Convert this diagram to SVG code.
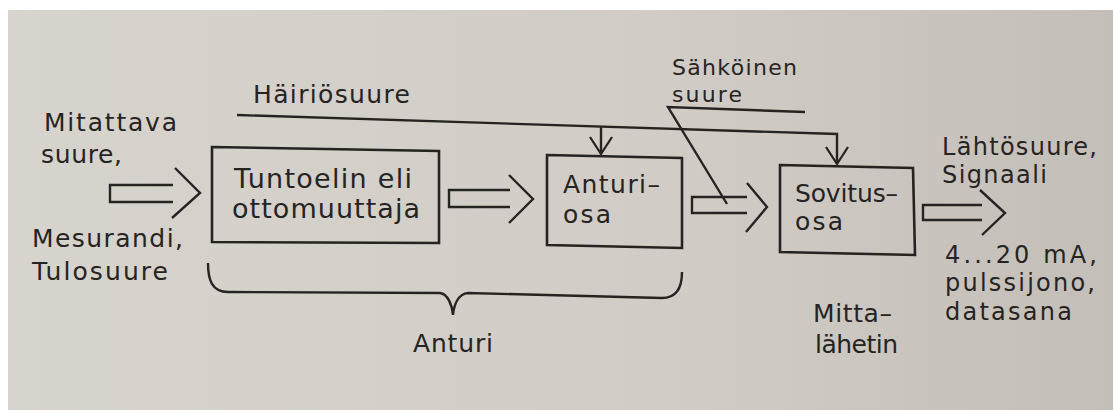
<svg xmlns="http://www.w3.org/2000/svg" width="1113" height="410" viewBox="0 0 1113 410">
  <defs>
    <linearGradient id="paper" x1="0" y1="0" x2="1" y2="0">
      <stop offset="0" stop-color="#d7d3cd"/>
      <stop offset="0.6" stop-color="#d1ccc6"/>
      <stop offset="1" stop-color="#c4beb8"/>
    </linearGradient>
    <marker id="vhead" markerUnits="userSpaceOnUse" markerWidth="30" markerHeight="30" viewBox="-20 -15 25 30" refX="0" refY="0" orient="auto" overflow="visible">
      <path d="M-17,-11 L0,0 L-17,11" fill="none" stroke="#262422" stroke-width="2.3"/>
    </marker>
    <style>
      .ln { fill: none; stroke: #262422; stroke-width: 2.4; stroke-linejoin: miter; }
      .box { fill: none; stroke: #262422; stroke-width: 2.6; }
      .t { font-family: "DejaVu Sans", "Liberation Sans", sans-serif; fill: #262422; }
      .lbl { font-size: 25px; }
      .sm { font-size: 22px; }
      .bx1 { font-size: 27px; }
      .bx { font-size: 25px; }
      .rt { font-size: 24px; }
    </style>
  </defs>

  <rect x="0" y="0" width="1113" height="410" fill="url(#paper)"/>
  <rect x="0" y="0" width="1113" height="10" fill="#ffffff"/>
  <rect x="0" y="0" width="8" height="410" fill="#ffffff"/>

  <g id="connectors">
    <path class="ln" d="M173,185 H110 V202 H173"/>
    <path class="ln" d="M175,168 L200,193 L172,218"/>
    <path class="ln" d="M510,190 H449 V207 H510"/>
    <path class="ln" d="M509,175 L533,199 L509,223"/>
    <path class="ln" d="M747,197 H692 V213 H747"/>
    <path class="ln" d="M747,183 L767,207 L746,232"/>
    <path class="ln" d="M982,205 H923 V220 H982"/>
    <path class="ln" d="M980,190 L1005,213 L982,235"/>
    <path class="ln" d="M237,115 L837,134 V164" marker-end="url(#vhead)"/>
    <path class="ln" d="M601,127 V154" marker-end="url(#vhead)"/>
    <path class="ln" d="M805,112 L668,107 L727,204"/>
    <path class="ln" d="M208,263 C208,280 212,292 228,292 L440,293 C448,294 452,305 453,315 C454,305 458,294 468,293 L662,298 C676,298 682,288 682,272"/>
  </g>

  <g id="node-tuntoelin">
    <polygon class="box" points="212,147 439,151 439,243 212,242"/>
    <text class="t bx1" x="234" y="188" textLength="178" lengthAdjust="spacing">Tuntoelin  eli</text>
    <text class="t bx1" x="232" y="218" textLength="188" lengthAdjust="spacing">ottomuuttaja</text>
  </g>

  <g id="node-anturiosa">
    <polygon class="box" points="547,155 682,158 682,248 547,245"/>
    <text class="t bx" x="563" y="193" textLength="97" lengthAdjust="spacing">Anturi–</text>
    <text class="t bx" x="563" y="223" textLength="48" lengthAdjust="spacing">osa</text>
  </g>

  <g id="node-sovitusosa">
    <polygon class="box" points="780,165 913,168 915,255 780,252"/>
    <text class="t bx" x="795" y="202" textLength="103" lengthAdjust="spacing">Sovitus–</text>
    <text class="t bx" x="795" y="230" textLength="48" lengthAdjust="spacing">osa</text>
  </g>

  <g id="label-input">
    <text class="t lbl" x="44" y="131" textLength="133" lengthAdjust="spacing">Mitattava</text>
    <text class="t lbl" x="41" y="163" textLength="81" lengthAdjust="spacing">suure,</text>
    <text class="t lbl" x="32" y="247" textLength="151" lengthAdjust="spacing">Mesurandi,</text>
    <text class="t lbl" x="32" y="280" textLength="136" lengthAdjust="spacing">Tulosuure</text>
  </g>

  <g id="label-hairio">
    <text class="t lbl" x="253" y="103" textLength="157" lengthAdjust="spacing">Häiriösuure</text>
  </g>

  <g id="label-sahkoinen">
    <text class="t sm" x="672" y="75" textLength="125" lengthAdjust="spacing">Sähköinen</text>
    <text class="t sm" x="672" y="102" textLength="70" lengthAdjust="spacing">suure</text>
  </g>

  <g id="label-anturi">
    <text class="t lbl" x="413" y="352" textLength="80" lengthAdjust="spacing">Anturi</text>
  </g>

  <g id="label-mittalahetin">
    <text class="t lbl" x="813" y="322" textLength="79" lengthAdjust="spacing">Mitta–</text>
    <text class="t lbl" x="815" y="353" textLength="83" lengthAdjust="spacing">lähetin</text>
  </g>

  <g id="label-output">
    <text class="t rt" x="942" y="155" textLength="155" lengthAdjust="spacing">Lähtösuure,</text>
    <text class="t rt" x="942" y="183" textLength="105" lengthAdjust="spacing">Signaali</text>
    <text class="t rt" x="945" y="263" textLength="152" lengthAdjust="spacing">4...20  mA,</text>
    <text class="t rt" x="945" y="291" textLength="150" lengthAdjust="spacing">pulssijono,</text>
    <text class="t rt" x="945" y="320" textLength="127" lengthAdjust="spacing">datasana</text>
  </g>
</svg>
